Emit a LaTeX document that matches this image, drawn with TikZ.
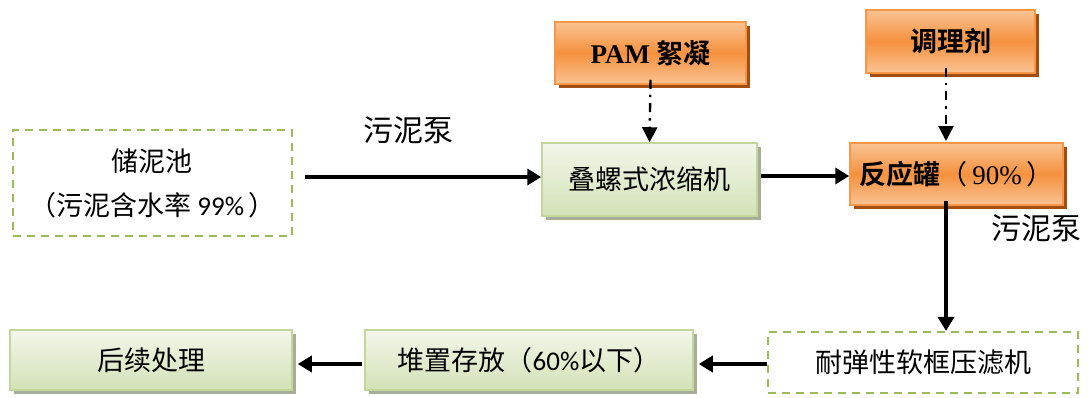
\documentclass[tikz,border=0pt]{standalone}
\usepackage{fontspec}
\setmainfont{Liberation Serif}
\newfontfamily\cjk{Noto Sans CJK SC}
\newfontfamily\cjkb{Noto Sans CJK SC Bold}
\newfontfamily\numf{Carlito}
\newfontfamily\serif{Liberation Serif}
\newfontfamily\serifb{Liberation Serif Bold}
\usetikzlibrary{shadows,arrows.meta}
\definecolor{gdash}{HTML}{9BBB59}
\definecolor{gline}{HTML}{C3D69B}
\definecolor{gtop}{HTML}{F2F6EA}
\definecolor{gbot}{HTML}{D3E2B6}
\definecolor{gshadow}{HTML}{A6AE98}
\definecolor{oline}{HTML}{F79646}
\definecolor{omid}{HTML}{F5913E}
\definecolor{oedge}{HTML}{FAC393}
\definecolor{oshadow}{HTML}{A34E10}
\tikzset{
  dashbox/.style={draw=gdash, line width=2.2pt, dash pattern=on 8pt off 6pt, fill=white, align=center, font=\cjk\fontsize{27}{44}\selectfont},
  greenbox/.style={draw=gline, line width=1.5pt, top color=gtop, bottom color=gbot, drop shadow={shadow xshift=4pt, shadow yshift=-4pt, fill=gshadow, opacity=1}, font=\cjk\fontsize{27}{32}\selectfont},
  orangebox/.style={draw=oline, line width=1.5pt, top color=oedge, bottom color=oedge, middle color=omid, drop shadow={shadow xshift=4pt, shadow yshift=-4pt, fill=oshadow, opacity=1}, font=\cjk\fontsize{27}{32}\selectfont},
  flow/.style={line width=4pt, -{Triangle[length=14pt,width=16pt]}},
  dashdot/.style={line width=2.4pt, dash pattern=on 9pt off 6pt on 2.4pt off 6pt, -{Triangle[length=15pt,width=15pt]}},
  lbl/.style={font=\cjk\fontsize{30}{34}\selectfont},
}
\begin{document}
\begin{tikzpicture}[x=1pt,y=-1pt]
\useasboundingbox (0,0) rectangle (1088,397);
% nodes
\node[dashbox, minimum width=279pt, minimum height=106pt] (pool) at (152.5,183) {储泥池\\（污泥含水率 {\numf 99\%}\,）};
\node[greenbox, minimum width=215pt, minimum height=73pt] (thick) at (649.5,179.5) {叠螺式浓缩机};
\node[orangebox, minimum width=191pt, minimum height=62pt] (pam) at (650.5,53) {{\serifb PAM} {\cjkb 絮凝}};
\node[orangebox, minimum width=169pt, minimum height=63pt] (agent) at (950.5,41.5) {\cjkb 调理剂};
\node[orangebox, minimum width=213pt, minimum height=62pt] (tank) at (956.5,174) {{\cjkb 反应罐}（\,{\serif 90\%}\,）};
\node[dashbox, minimum width=310pt, minimum height=61pt] (press) at (923,362.5) {耐弹性软框压滤机};
\node[greenbox, minimum width=328pt, minimum height=60pt] (store) at (529,360) {堆置存放（{\numf 60\%}以下）};
\node[greenbox, minimum width=282pt, minimum height=60pt] (after) at (151,360) {后续处理};
% connectors
\draw[flow] (pool.east |- 0,177) ++(12pt,0) coordinate (a1) -- (thick.west |- a1);
\draw[flow] (thick.east |- 0,176) ++(3pt,0) coordinate (a2) -- (tank.west |- a2);
\draw[dashdot] (pam.south) ++(0,5pt) coordinate (a3) -- (thick.north);
\draw[dashdot] (agent.south -| 946,0) ++(0,6pt) coordinate (a4) -- (946,141) coordinate (a4e);
\draw[flow] (tank.south -| 946,0) ++(0,5pt) coordinate (a5) -- (press.north -| a5);
\draw[flow] (press.west |- 0,364) coordinate (a6) -- ([xshift=5pt]store.east |- a6);
\draw[flow] (store.west |- 0,364) ++(-2pt,0) coordinate (a7) -- ([xshift=5pt]after.east |- a7);
% labels
\node[lbl] (lab1) at (408,130) {污泥泵};
\node[lbl] (lab2) at (1036,228) {污泥泵};
\end{tikzpicture}
\end{document}
